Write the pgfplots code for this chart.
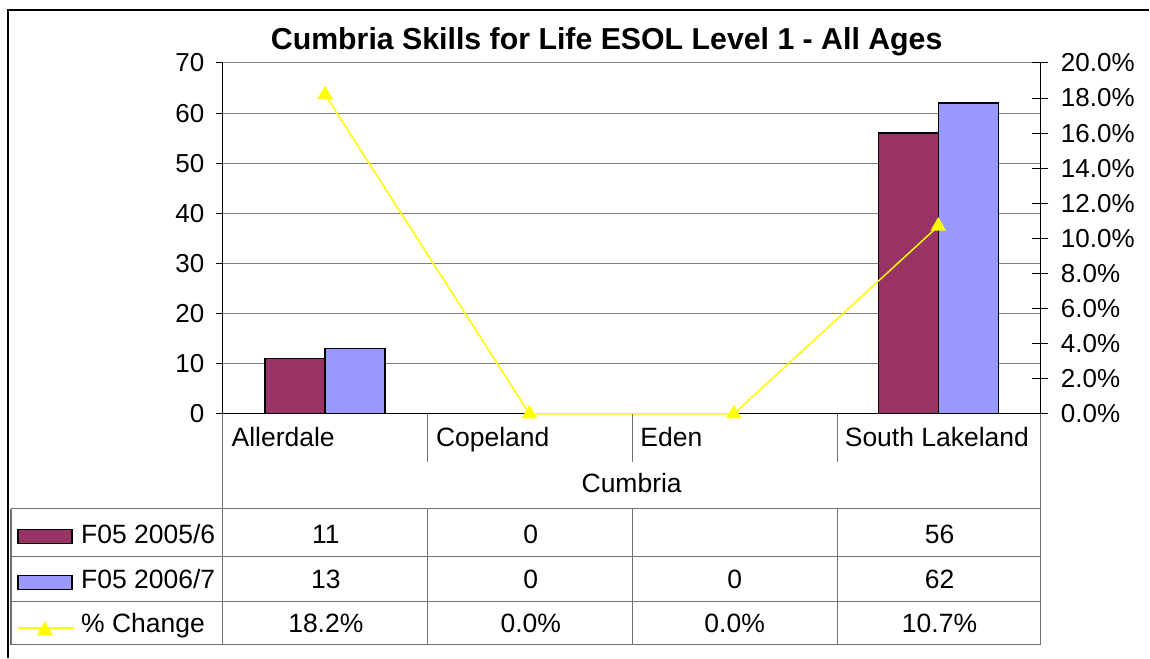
\documentclass[border=0pt]{standalone}
\usepackage{pgfplots}
\pgfplotsset{compat=1.18}
\usetikzlibrary{shapes.geometric}
\usepackage{fontspec}
\setmainfont{Liberation Sans}
\definecolor{cmaroon}{HTML}{993366}
\definecolor{clav}{HTML}{9999FF}
\definecolor{cyel}{HTML}{FFFF00}
\definecolor{cgrid}{HTML}{808080}
\definecolor{ctab}{HTML}{707070}
\newcommand{\tf}{\fontsize{26.5}{30}\selectfont}
\newcommand{\kf}{\fontsize{26}{30}\selectfont}
\begin{document}
\begin{tikzpicture}[x=1pt,y=1pt]
\path[fill=white] (0,0) rectangle (1150,658);
\draw[black, line width=1.2pt] (8,0) -- (8,648) -- (1150,648);
\node[font=\fontsize{30.3}{34}\selectfont\bfseries, anchor=base] at (607,608) {Cumbria Skills for Life ESOL Level 1 - All Ages};

\begin{axis}[at={(223pt,244pt)}, anchor=south west, width=818pt, height=351pt, scale only axis,
  xmin=-0.5, xmax=3.5, ymin=0, ymax=70,
  axis x line*=bottom, axis y line*=left,
  ytick={0,10,...,70}, ymajorgrids, grid style={cgrid, line width=1pt},
  xtick={0,1,2,3}, xticklabels={Allerdale,Copeland,Eden,South Lakeland},
  x tick style={draw=none},
  xticklabel style={anchor=base west, xshift=-97pt, yshift=-26pt, font=\tf},
  yticklabel style={font=\kf, xshift=-8pt},
  y tick style={black, line width=1pt}, tick align=outside, major tick length=7pt,
  /pgf/number format/assume math mode=true,
  axis line style={black, line width=1.2pt}]
\addplot[ybar, bar width=60pt, bar shift=-30pt, fill=cmaroon, draw=black, line width=1.3pt] coordinates {(0,11)(1,0)(3,56)};
\addplot[ybar, bar width=60pt, bar shift=30pt, fill=clav, draw=black, line width=1.3pt] coordinates {(0,13)(1,0)(2,0)(3,62)};
\end{axis}

\begin{axis}[at={(223pt,244pt)}, anchor=south west, width=818pt, height=351pt, scale only axis,
  xmin=-0.5, xmax=3.5, ymin=0, ymax=20, clip=false,
  axis y line*=right, axis x line=none,
  ytick={0,2,...,20},
  yticklabel={\pgfmathprintnumber[fixed,fixed zerofill,precision=1]{\tick}\%},
  yticklabel style={font=\kf, xshift=9pt},
  y tick style={black, line width=1pt}, tick align=center, major tick length=16pt,
  /pgf/number format/assume math mode=true,
  axis line style={black, line width=1.2pt}]
\addplot[cyel, line width=1.5pt, mark=triangle*, mark size=7.5pt, mark options={fill=cyel, draw=cyel}] coordinates {(0,18.2)(1,0)(2,0)(3,10.7)};
\end{axis}

% data table frame
\begin{scope}[ctab, line width=1.2pt]
\draw (223,244) -- (223,13);
\draw (1041,244) -- (1041,13);
\foreach \xx in {428,633,838} {\draw (\xx,244) -- (\xx,196); \draw (\xx,149) -- (\xx,13);}
\foreach \yy in {149,101,56,13} {\draw (11,\yy) -- (1041,\yy);}
\draw (11,149) -- (11,13);
\end{scope}
\node[font=\tf, anchor=base] at (632,165) {Cumbria};
% legend keys
\draw[fill=cmaroon, draw=black, line width=1.2pt] (18,114) rectangle (72,128);
\draw[fill=clav, draw=black, line width=1.2pt] (18,68) rectangle (72,82);
\draw[cyel, line width=1.8pt] (18,30) -- (74,30);
\node[fill=cyel, regular polygon, regular polygon sides=3, inner sep=0pt, minimum size=19pt] at (45,27) {};
\node[font=\tf, anchor=base west, inner sep=0pt] at (81,114) {F05 2005/6};
\node[font=\tf, anchor=base west, inner sep=0pt] at (81,69) {F05 2006/7};
\node[font=\tf, anchor=base west, inner sep=0pt] at (81,25) {\% Change};
% values
\foreach \xx/\a/\b/\c in {326/11/13/18.2\%, 531/0/0/0.0\%, 735/{}/0/0.0\%, 940/56/62/10.7\%} {
  \node[font=\tf, anchor=base, inner sep=0pt] at (\xx,114) {\a};
  \node[font=\tf, anchor=base, inner sep=0pt] at (\xx,69) {\b};
  \node[font=\tf, anchor=base, inner sep=0pt] at (\xx,25) {\c};
}
\end{tikzpicture}
\end{document}
